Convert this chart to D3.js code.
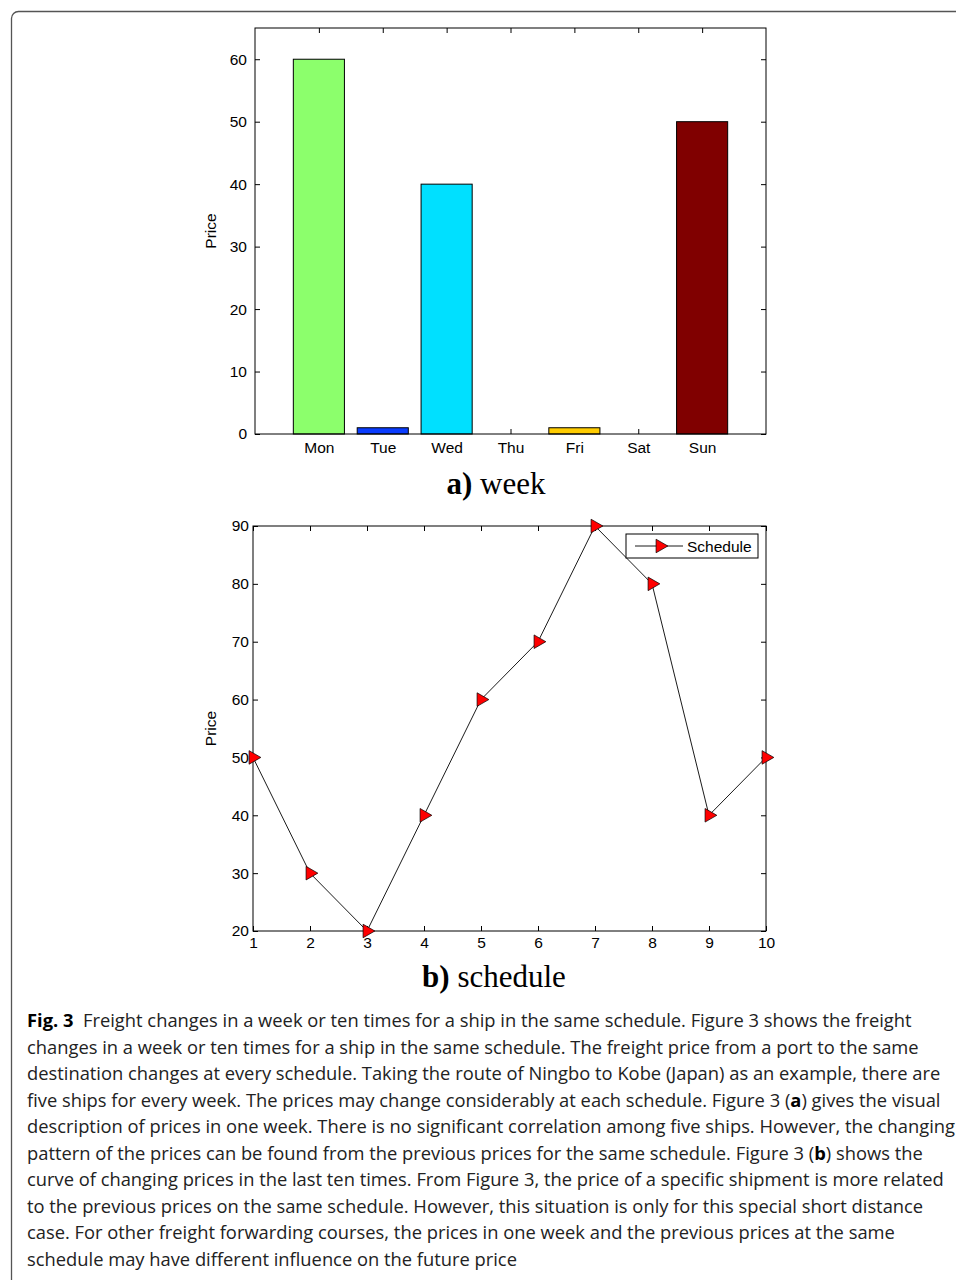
<!DOCTYPE html>
<html>
<head>
<meta charset="utf-8">
<script src="https://cdn.jsdelivr.net/npm/d3@7"></script>
<style>
  body { margin: 0; background: #fff; }
  svg { display: block; }
</style>
</head>
<body>
<div id="fig"></div>
<script>
// week panel
const days = ["Mon", "Tue", "Wed", "Thu", "Fri", "Sat", "Sun"];
const dayPrices = [60, 1, 40, 0, 1, 0, 50];
const dayColors = ["#8cff6c", "#0a3cff", "#00e0ff", "#1a9cff", "#ffcc00", "#ff4000", "#800000"];
const weekTicks = [0, 10, 20, 30, 40, 50, 60];

// schedule panel
const runs = [1, 2, 3, 4, 5, 6, 7, 8, 9, 10];
const runPrices = [50, 30, 20, 40, 60, 70, 90, 80, 40, 50];
const schedTicks = [20, 30, 40, 50, 60, 70, 80, 90];

const captionLines = [
  [["Fig. 3", true], ["  Freight changes in a week or ten times for a ship in the same schedule. Figure 3 shows the freight", false]],
  [["changes in a week or ten times for a ship in the same schedule. The freight price from a port to the same", false]],
  [["destination changes at every schedule. Taking the route of Ningbo to Kobe (Japan) as an example, there are", false]],
  [["five ships for every week. The prices may change considerably at each schedule. Figure 3 (", false], ["a", true], [") gives the visual", false]],
  [["description of prices in one week. There is no significant correlation among five ships. However, the changing", false]],
  [["pattern of the prices can be found from the previous prices for the same schedule. Figure 3 (", false], ["b", true], [") shows the", false]],
  [["curve of changing prices in the last ten times. From Figure 3, the price of a specific shipment is more related", false]],
  [["to the previous prices on the same schedule. However, this situation is only for this special short distance", false]],
  [["case. For other freight forwarding courses, the prices in one week and the previous prices at the same", false]],
  [["schedule may have different influence on the future price", false]]
];

const W = 956, H = 1280;
const svg = d3.select("#fig").append("svg")
  .attr("width", W)
  .attr("height", H);

// outer frame, runs off right and bottom edges
svg.append("rect")
  .attr("x", 11.5).attr("y", 11.5)
  .attr("width", 1000).attr("height", 1400)
  .attr("rx", 7)
  .attr("fill", "none")
  .attr("stroke", "#555")
  .attr("stroke-width", 1.3);

const chartFont = "'Liberation Sans', Arial, sans-serif";
const tickFs = "15.5px";

function frame(g, x, y, w, h) {
  g.append("rect")
    .attr("x", x).attr("y", y)
    .attr("width", w).attr("height", h)
    .attr("fill", "none")
    .attr("stroke", "#000")
    .attr("stroke-width", 1);
}

function styleAxis(a, labels) {
  a.select(".domain").remove();
  a.selectAll(".tick line").attr("stroke", "#000");
  a.selectAll("text")
    .style("font-family", chartFont)
    .style("font-size", tickFs)
    .attr("fill", "#000");
  if (!labels) a.selectAll("text").remove();
}

// ---------- a) week ----------
const A = { left: 255, right: 766, top: 28, bottom: 434 };
const xA = d3.scaleLinear().domain([0, 8]).range([A.left, A.right]);
const yA = d3.scaleLinear().domain([0, 65]).range([A.bottom, A.top]);
const bw = (xA(1) - xA(0)) * 0.8;

const gA = svg.append("g");

const dayAxisScale = d3.scaleOrdinal().domain(days).range(days.map((d, i) => xA(i + 1)));

gA.append("g")
  .attr("transform", `translate(0,${A.bottom})`)
  .call(d3.axisBottom(dayAxisScale).tickSizeInner(-5).tickPadding(8))
  .call(a => styleAxis(a, true));
gA.append("g")
  .attr("transform", `translate(0,${A.top})`)
  .call(d3.axisTop(dayAxisScale).tickSizeInner(-5))
  .call(a => styleAxis(a, false));
gA.append("g")
  .attr("transform", `translate(${A.left},0)`)
  .call(d3.axisLeft(yA).tickValues(weekTicks).tickSizeInner(-5).tickPadding(8))
  .call(a => styleAxis(a, true));
gA.append("g")
  .attr("transform", `translate(${A.right},0)`)
  .call(d3.axisRight(yA).tickValues(weekTicks).tickSizeInner(-5))
  .call(a => styleAxis(a, false));

gA.selectAll("rect.bar")
  .data(dayPrices)
  .join("rect")
  .attr("class", "bar")
  .attr("x", (d, i) => xA(i + 1) - bw / 2)
  .attr("y", d => yA(d))
  .attr("width", bw)
  .attr("height", d => yA(0) - yA(d))
  .attr("fill", (d, i) => dayColors[i])
  .attr("stroke", "#000")
  .attr("stroke-width", 1);

frame(gA, A.left, A.top, A.right - A.left, A.bottom - A.top);

gA.append("text")
  .attr("transform", `translate(216,${(A.top + A.bottom) / 2}) rotate(-90)`)
  .attr("text-anchor", "middle")
  .style("font-family", chartFont)
  .style("font-size", tickFs)
  .text("Price");

const subA = gA.append("text")
  .attr("x", 496).attr("y", 494)
  .attr("text-anchor", "middle")
  .style("font-family", "'Liberation Serif', 'Times New Roman', serif")
  .style("font-size", "31px");
subA.append("tspan").attr("font-weight", "bold").text("a)");
subA.append("tspan").text(" week");

// ---------- b) schedule ----------
const B = { left: 253, right: 766, top: 526, bottom: 931 };
const xB = d3.scaleLinear().domain([1, 10]).range([B.left, B.right]);
const yB = d3.scaleLinear().domain([20, 90]).range([B.bottom, B.top]);

const gB = svg.append("g");

gB.append("g")
  .attr("transform", `translate(0,${B.bottom})`)
  .call(d3.axisBottom(xB).tickValues(runs).tickSizeInner(-5).tickPadding(6))
  .call(a => styleAxis(a, true));
gB.append("g")
  .attr("transform", `translate(0,${B.top})`)
  .call(d3.axisTop(xB).tickValues(runs).tickSizeInner(-5))
  .call(a => styleAxis(a, false));
gB.append("g")
  .attr("transform", `translate(${B.left},0)`)
  .call(d3.axisLeft(yB).tickValues(schedTicks).tickSizeInner(-5).tickPadding(4))
  .call(a => styleAxis(a, true));
gB.append("g")
  .attr("transform", `translate(${B.right},0)`)
  .call(d3.axisRight(yB).tickValues(schedTicks).tickSizeInner(-5))
  .call(a => styleAxis(a, false));

frame(gB, B.left, B.top, B.right - B.left, B.bottom - B.top);

const line = d3.line()
  .x((d, i) => xB(runs[i]))
  .y(d => yB(d));

gB.append("path")
  .datum(runPrices)
  .attr("d", line)
  .attr("fill", "none")
  .attr("stroke", "#000")
  .attr("stroke-width", 0.9);

const tri = d3.symbol().type(d3.symbolTriangle).size(80);

gB.selectAll("path.mk")
  .data(runPrices)
  .join("path")
  .attr("class", "mk")
  .attr("d", tri)
  .attr("transform", (d, i) => `translate(${xB(runs[i])},${yB(d)}) rotate(90)`)
  .attr("fill", "#ff0000")
  .attr("stroke", "#000")
  .attr("stroke-width", 0.7);

// legend
const lg = gB.append("g").attr("transform", "translate(626,534)");
lg.append("rect")
  .attr("width", 132).attr("height", 24)
  .attr("fill", "#fff")
  .attr("stroke", "#000")
  .attr("stroke-width", 1);
lg.append("line")
  .attr("x1", 9).attr("x2", 57)
  .attr("y1", 12).attr("y2", 12)
  .attr("stroke", "#000")
  .attr("stroke-width", 0.9);
lg.append("path")
  .attr("d", tri)
  .attr("transform", "translate(34,12) rotate(90)")
  .attr("fill", "#ff0000")
  .attr("stroke", "#000")
  .attr("stroke-width", 0.7);
lg.append("text")
  .attr("x", 61).attr("y", 17.5)
  .style("font-family", chartFont)
  .style("font-size", tickFs)
  .text("Schedule");

gB.append("text")
  .attr("transform", `translate(216,${(B.top + B.bottom) / 2}) rotate(-90)`)
  .attr("text-anchor", "middle")
  .style("font-family", chartFont)
  .style("font-size", tickFs)
  .text("Price");

const subB = gB.append("text")
  .attr("x", 494).attr("y", 987)
  .attr("text-anchor", "middle")
  .style("font-family", "'Liberation Serif', 'Times New Roman', serif")
  .style("font-size", "31px");
subB.append("tspan").attr("font-weight", "bold").text("b)");
subB.append("tspan").text(" schedule");

// ---------- caption ----------
const cap = svg.append("g")
  .style("font-family", "'Open Sans', 'Noto Sans', sans-serif")
  .style("font-size", "17px")
  .attr("fill", "#222");

cap.selectAll("text")
  .data(captionLines)
  .join("text")
  .attr("x", 27)
  .attr("y", (d, i) => 1027 + i * 26.5)
  .attr("xml:space", "preserve")
  .style("white-space", "pre")
  .each(function (parts) {
    const t = d3.select(this);
    parts.forEach(([s, b]) => {
      t.append("tspan")
        .attr("font-weight", b ? "bold" : null)
        .attr("fill", b ? "#000" : null)
        .text(s);
    });
  });

// fit caption width: first line in the reference ends near x=912
const first = cap.select("text").node();
const len = first.getComputedTextLength();
const fs = 17 * 885 / len;
cap.style("font-size", fs + "px");
</script>
</body>
</html>
